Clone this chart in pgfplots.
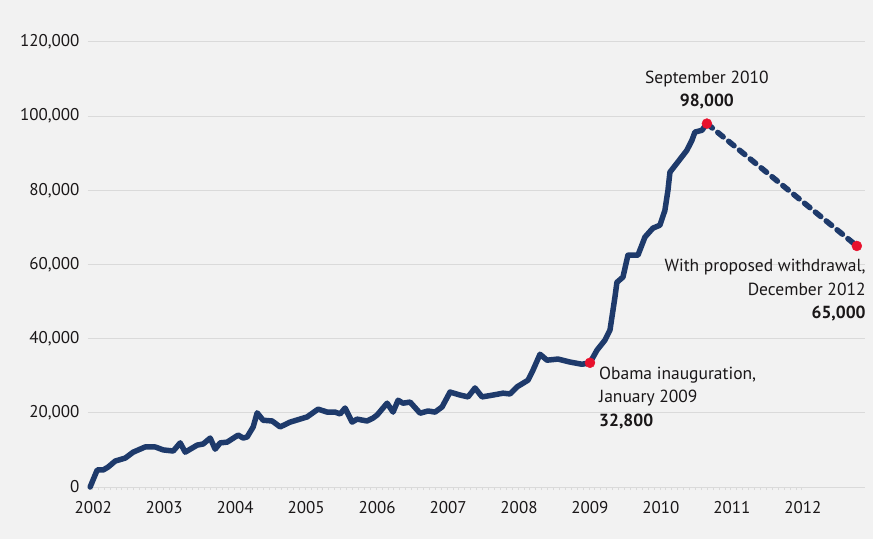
\documentclass[border=0pt]{standalone}
\usepackage{fontspec}
\setmainfont{PT Sans}
\usepackage{pgfplots}
\pgfplotsset{compat=1.18}
\definecolor{navy}{HTML}{1E3A6B}
\definecolor{dotred}{HTML}{E8112D}
\definecolor{bg}{HTML}{F2F2F2}
\definecolor{gridc}{HTML}{DADADA}
\definecolor{txt}{HTML}{1A1718}
\begin{document}
\begin{tikzpicture}[font=\fontsize{17.5}{23.5}\selectfont]
\fill[bg] (-88pt,-52pt) rectangle (785pt,487pt);
\begin{axis}[
  scale only axis, width=777pt, height=445pt,
  at={(0,0)}, anchor=south west,
  xmin=2001.94, xmax=2012.89, ymin=0, ymax=120000,
  clip=false,
  axis x line*=bottom, axis y line*=left,
  y axis line style={draw=none},
  x axis line style={draw=gridc, line width=1pt},
  ytick={0,20000,40000,60000,80000,100000,120000},
  yticklabels={0,{20,000},{40,000},{60,000},{80,000},{100,000},{120,000}},
  xtick={2002,2003,2004,2005,2006,2007,2008,2009,2010,2011,2012},
  xticklabels={2002,2003,2004,2005,2006,2007,2008,2009,2010,2011,2012},
  minor x tick num=11,
  ytick style={draw=none},
  xtick style={draw=gridc, line width=0.8pt},
  tick align=outside,
  major tick length=3pt, minor tick length=3pt,
  ymajorgrids, major grid style={draw=gridc, line width=1pt},
  scaled y ticks=false,
  ticklabel style={font=\fontsize{17}{20}\selectfont, text=txt},
  yticklabel style={xshift=-2pt},
  xticklabel style={yshift=-8pt, xshift=1pt},
]
\addplot[navy, line width=5.5pt, line join=round, line cap=round] coordinates {
(2001.97,0)(2002.07,4600)(2002.155,4600)(2002.225,5400)(2002.324,7000)
(2002.465,7800)(2002.577,9400)(2002.746,10800)(2002.887,10800)(2003.000,10000)
(2003.141,9700)(2003.239,11900)(2003.310,9400)(2003.479,11300)(2003.563,11600)
(2003.662,13200)(2003.732,10200)(2003.803,11900)(2003.901,12100)(2004.056,14000)
(2004.127,13200)(2004.183,13500)(2004.268,16200)(2004.324,20000)(2004.408,18000)
(2004.535,17800)(2004.648,16200)(2004.789,17500)(2005.028,18900)(2005.183,21000)
(2005.310,20200)(2005.423,20200)(2005.493,19700)(2005.563,21300)(2005.662,17500)
(2005.732,18300)(2005.873,17800)(2005.958,18600)(2006.014,19400)(2006.155,22600)
(2006.239,20200)(2006.310,23400)(2006.380,22600)(2006.479,22900)(2006.620,19900)
(2006.732,20500)(2006.831,20200)(2006.930,21600)(2007.042,25600)(2007.183,24800)
(2007.296,24300)(2007.394,26700)(2007.493,24300)(2007.648,24800)(2007.789,25300)
(2007.887,25100)(2007.986,27000)(2008.141,28800)(2008.211,31500)(2008.310,35800)
(2008.408,34200)(2008.563,34500)(2008.732,33700)(2008.901,33100)(2009.014,33500)
(2009.113,36900)(2009.225,39600)(2009.296,42300)(2009.366,51200)(2009.394,55200)
(2009.479,56600)(2009.549,62500)(2009.690,62500)(2009.789,67400)(2009.901,69800)
(2010.000,70600)(2010.070,74600)(2010.113,80000)(2010.141,84900)(2010.239,87300)
(2010.380,90800)(2010.451,93500)(2010.493,95700)(2010.592,96200)(2010.662,98000)
};
\addplot[navy, line width=5.5pt, dash pattern=on 7pt off 7pt, line cap=round] coordinates {
(2010.662,98000)(2012.775,65000)
};
\addplot[only marks, mark=*, mark size=5pt, color=dotred, mark options={draw=dotred, fill=dotred}] coordinates {
(2009.014,33500)(2010.662,98000)(2012.775,65000)
};
\node[anchor=south, align=center, inner sep=0pt, yshift=14pt, text=txt] at (axis cs:2010.662,98000)
  {September 2010\\\textbf{98,000}};
\node[anchor=north west, align=left, inner sep=0pt, xshift=9pt, yshift=-4pt, text=txt] at (axis cs:2009.014,33500)
  {Obama inauguration,\\January 2009\\\textbf{32,800}};
\node[anchor=north east, align=right, inner sep=0pt, xshift=9pt, yshift=-13pt, text=txt] at (axis cs:2012.775,65000)
  {With proposed withdrawal,\\December 2012\\\textbf{65,000}};
\end{axis}
\pgfresetboundingbox
\path[use as bounding box] (-88pt,-52pt) rectangle (785pt,487pt);
\end{tikzpicture}
\end{document}
